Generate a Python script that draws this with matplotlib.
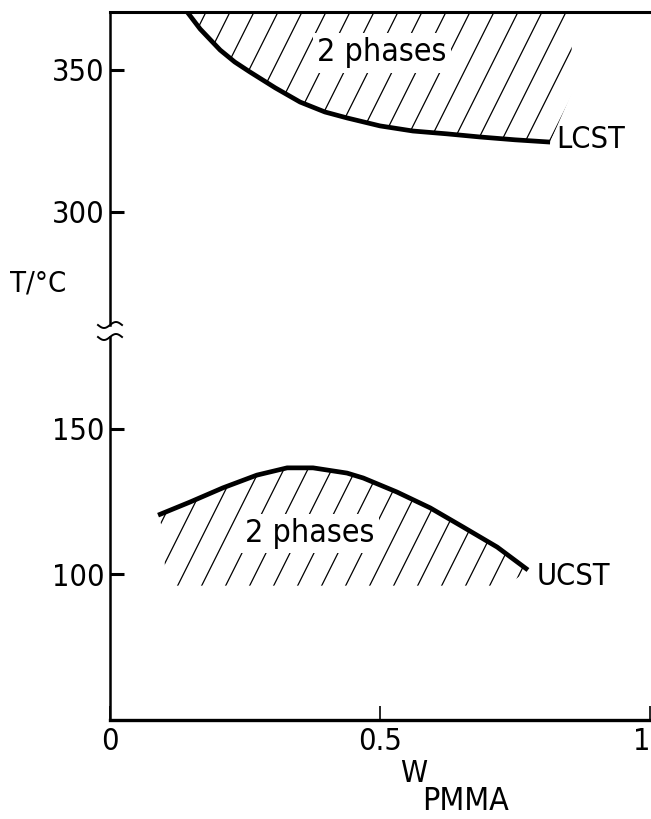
"""Phase diagram of a PMMA blend: LCST and UCST with a broken T axis."""
import numpy as np
import matplotlib.pyplot as plt
from matplotlib.patches import Polygon

plt.rcParams['font.family'] = ['DejaVu Sans']
plt.rcParams['font.stretch'] = 'condensed'

# LCST branch (upper part of the diagram)
lcst_w = [0.143, 0.167, 0.204, 0.231, 0.259, 0.306, 0.352, 0.398, 0.439,
          0.500, 0.561, 0.624, 0.685, 0.750, 0.815]
lcst_T = [370.4, 364.4, 357.0, 352.8, 349.3, 343.7, 338.7, 335.2, 333.1,
          330.3, 328.5, 327.5, 326.4, 325.4, 324.6]

# UCST branch (lower part of the diagram)
ucst_w = [0.089, 0.148, 0.209, 0.272, 0.328, 0.376, 0.439, 0.469, 0.531,
          0.593, 0.654, 0.717, 0.774]
ucst_T = [120.3, 124.8, 129.7, 134.1, 136.6, 136.6, 134.8, 133.1, 128.3,
          122.8, 116.2, 109.3, 101.4]

# extent of the hatched two-phase areas
lcst_hatch_right = [(0.855, 341.9), (0.855, 370.4)]
ucst_hatch_low = [(0.735, 96.0), (0.105, 96.0), (0.095, 117.0)]

top_yticks = [300, 350]
low_yticks = [100, 150]
xticks = [0, 0.5, 1]
xticklabels = ['0', '0.5', '1']

FS = 22
W, H = 651, 819
fig = plt.figure(figsize=(W / 100, H / 100), dpi=100)


def px_axes(left, top, right, bottom):
    return fig.add_axes([left / W, 1 - bottom / H, (right - left) / W, (bottom - top) / H])


ax_top = px_axes(110, 12, 650, 325)
ax_low = px_axes(110, 337, 650, 720)

ax_top.set_ylim(260.2, 370.4)
ax_low.set_ylim(49.7, 181.7)
for ax in (ax_top, ax_low):
    ax.set_xlim(0, 1)
    ax.spines['right'].set_visible(False)
    ax.spines['left'].set_linewidth(1.8)
    ax.tick_params(axis='y', direction='in', length=10, width=2.2,
                   labelsize=FS, pad=4)
ax_top.spines['bottom'].set_visible(False)
ax_top.spines['top'].set_linewidth(2.2)
ax_top.set_xticks([])
ax_top.set_yticks(top_yticks)
ax_low.spines['top'].set_visible(False)
ax_low.spines['bottom'].set_linewidth(2.4)
ax_low.set_yticks(low_yticks)
ax_low.set_xticks(xticks)
ax_low.set_xticklabels(xticklabels)
ax_low.tick_params(axis='x', direction='in', length=10, width=1.2,
                   labelsize=FS, pad=5)
ax_low.get_xticklabels()[-1].set_horizontalalignment('right')


def hatch(ax, poly, spacing_px=24, slope_px=2.0):
    """Draw steep parallel hatch lines clipped to a polygon (data coords)."""
    patch = Polygon(poly, closed=True, facecolor='none', edgecolor='none')
    ax.add_patch(patch)
    bb = ax.get_window_extent()
    x0, x1 = ax.get_xlim()
    y0, y1 = ax.get_ylim()
    ppx = bb.width / (x1 - x0)
    ppy = bb.height / (y1 - y0)
    k = slope_px * ppx / ppy          # data slope dT/dw
    dx = spacing_px / ppx
    span = (y1 - y0) / k
    for c in np.arange(x0 - span, x1 + dx, dx):
        ln, = ax.plot([c, c + span], [y0, y1], color='black', lw=0.9)
        ln.set_clip_path(patch)


hatch(ax_top, list(zip(lcst_w, lcst_T)) + lcst_hatch_right)
hatch(ax_low, list(zip(ucst_w, ucst_T)) + ucst_hatch_low)

ax_top.plot(lcst_w, lcst_T, color='black', lw=3.4, solid_capstyle='butt',
            solid_joinstyle='round')
ax_low.plot(ucst_w, ucst_T, color='black', lw=3.4, solid_capstyle='butt',
            solid_joinstyle='round')

box = dict(facecolor='white', edgecolor='none', pad=3)
ax_top.text(0.504, 356, '2 phases', fontsize=FS + 1, ha='center', va='center', bbox=box)
ax_low.text(0.37, 114, '2 phases', fontsize=FS + 1, ha='center', va='center', bbox=box)
ax_top.text(0.826, 325.4, 'LCST', fontsize=FS, ha='left', va='center')
ax_low.text(0.79, 99, 'UCST', fontsize=FS, ha='left', va='center')

# break marks on the T axis
s = np.linspace(-1, 1, 40)
for ax, yb in ((ax_top, 0.0), (ax_low, 1.0)):
    bb = ax.get_window_extent()
    xs = s * 12 / bb.width
    ys = yb + np.sin(s * np.pi) * 3 / bb.height
    ax.plot(xs, ys, transform=ax.transAxes, color='black', lw=1.4, clip_on=False)

fig.text(38 / W, 1 - 283 / H, 'T/°C', fontsize=FS - 1, ha='center', va='center')
fig.text(400 / W, 1 - 774 / H, 'W', fontsize=FS, ha='left', va='center')
fig.text(422 / W, 1 - 801 / H, 'PMMA', fontsize=FS + 1, ha='left', va='center')

fig.savefig('out.png', dpi=100)
